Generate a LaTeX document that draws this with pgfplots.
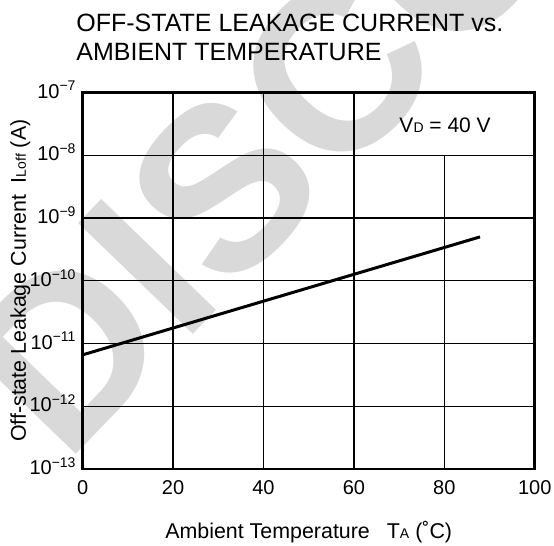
\documentclass[border=0pt]{standalone}
\usepackage{fontspec}
\setmainfont{Liberation Sans}
\usepackage{pgfplots}
\pgfplotsset{compat=1.18}
\definecolor{wm}{gray}{0.85}
\begin{document}
\begin{tikzpicture}
% watermark
\node[rotate=46, anchor=base west, text=wm, inner sep=0pt,
      font=\fontsize{116bp}{116bp}\selectfont\bfseries] at (-8.5bp,1.5bp) {DISCONTINUED};
\begin{axis}[
  scale only axis, width=226bp, height=188.25bp,
  at={(0,0)}, anchor=south west,
  xmin=0, xmax=100, ymode=log, ymin=1e-13, ymax=1e-7,
  xtick={0,20,40,60,80,100},
  ytick={1e-13,1e-12,1e-11,1e-10,1e-9,1e-8,1e-7},
  yticklabels={10\textsuperscript{−13},10\textsuperscript{−12},10\textsuperscript{−11},10\textsuperscript{−10},10\textsuperscript{−9},10\textsuperscript{−8},10\textsuperscript{−7}},
  minor ytick={},
  major tick length=0pt, minor tick length=0pt,
  ymajorgrids=true,
  grid style={line width=0.65bp, black},
  axis line style={line width=1.4bp},
  /pgf/number format/assume math mode=true,
  ticklabel style={font=\fontsize{10bp}{12bp}\selectfont},
  xticklabel style={anchor=base, inner sep=0pt, yshift=-12.5bp},
  yticklabel style={anchor=base east, inner sep=0pt, xshift=-2.9bp, yshift=-2.8bp},
  xlabel={Ambient Temperature\hspace{8.5bp}T{\fontsize{7bp}{8bp}\selectfont A} (˚C)},
  ylabel={Off-state Leakage Current\ \ I{\fontsize{7bp}{8bp}\selectfont Loff} (A)},
  label style={font=\fontsize{10.7bp}{13bp}\selectfont},
  xlabel style={at={(axis description cs:0.5,0)}, anchor=base, inner sep=0pt, yshift=-34.85bp},
  ylabel style={at={(axis description cs:0,0.5)}, anchor=base, inner sep=0pt, yshift=28.35bp},
  clip=false,
]
\addplot[line width=0.65bp, black] coordinates {(20,1e-13) (20,1e-7)};
\addplot[line width=0.65bp, black] coordinates {(40,1e-13) (40,1e-7)};
\addplot[line width=0.65bp, black] coordinates {(60,1e-13) (60,1e-7)};
\addplot[line width=0.65bp, black] coordinates {(80,1e-13) (80,1e-8)};
\addplot[line width=1.5bp, black] coordinates {(0,6.6e-12) (87.9,5.0e-10)};
\node[anchor=base west, inner sep=0pt, font=\fontsize{10.5bp}{12bp}\selectfont] at (axis cs:70,2.29e-8) {V{\fontsize{7bp}{8bp}\selectfont D} = 40 V};
\end{axis}
\node[anchor=base west, inner sep=0pt, font=\fontsize{12.5bp}{15bp}\selectfont] at (-3.35bp,218.65bp) {OFF-STATE LEAKAGE CURRENT vs.};
\node[anchor=base west, inner sep=0pt, font=\fontsize{12.5bp}{15bp}\selectfont] at (-3.35bp,204bp) {AMBIENT TEMPERATURE};
\pgfresetboundingbox
\path[use as bounding box] (-41.35bp,-38.5bp) rectangle (235.65bp,234.5bp);
\end{tikzpicture}
\end{document}
